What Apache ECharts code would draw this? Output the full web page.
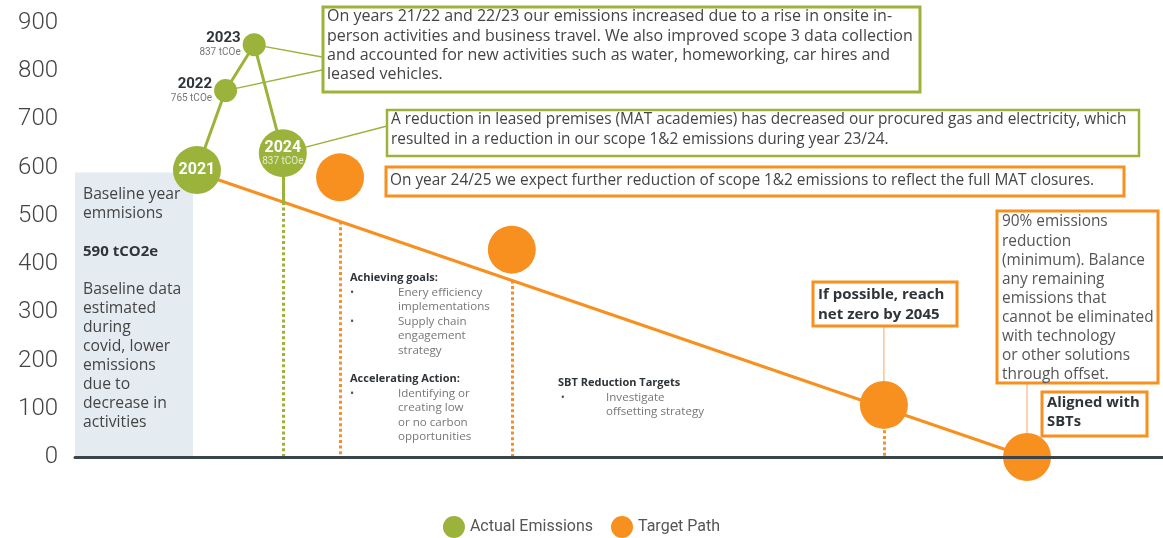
<!DOCTYPE html>
<html>
<head>
<meta charset="utf-8">
<script src="https://cdn.jsdelivr.net/npm/echarts@6/dist/echarts.min.js"></script>
<style>
  html, body { margin: 0; padding: 0; background: #fff; }
  #chart { width: 1163px; height: 538px; }
</style>
</head>
<body>
<div id="chart"></div>
<script>
// actual emissions (years / plotted value / label text)
const actualYears = [2021, 2022, 2023, 2024];
const actualValues = [595, 760, 855, 630];
const actualSubLabels = ["", "765 tCOe", "837 tCOe", "837 tCOe"];

// target path: straight line from baseline to zero
const targetYears = [2021, 2050];
const targetValues = [590, 0];

// orange milestone circles
const milestoneYears = [2026, 2032, 2045, 2050];
const milestoneValues = [580, 430, 108, 0];

const baselineValue = 590;
const yMin = 0;
const yMax = 900;
const yStep = 100;

const green = "#9bb23b";
const orange = "#f7901e";
const axisColor = "#3b4448";
const textColor = "#444";
const fontFamily = "Roboto, 'Open Sans', sans-serif";
const noteFont = "'Open Sans', Roboto, sans-serif";

const xMin = 2016.74;
const xMax = 2054.75;

function targetAt(year) {
  const t = (year - targetYears[0]) / (targetYears[1] - targetYears[0]);
  return targetValues[0] + t * (targetValues[1] - targetValues[0]);
}

const bigYears = new Set([actualYears[0], actualYears[actualYears.length - 1]]);

const actualData = actualYears.map((year, i) => {
  const big = bigYears.has(year);
  const sub = actualSubLabels[i];
  return {
    value: [year, actualValues[i]],
    symbolSize: big ? 48 : 23,
    label: big
      ? {
          show: true,
          position: "inside",
          formatter: sub ? `{w|${year}}\n{ws|${sub}}` : `{w|${year}}`
        }
      : {
          show: true,
          position: "left",
          distance: 2,
          formatter: `{b|${year}}\n{s|${sub}}`
        }
  };
});

const lastYear = actualYears[actualYears.length - 1];
const lastValue = actualValues[actualValues.length - 1];

const chart = echarts.init(document.getElementById("chart"), null, { renderer: "canvas" });

chart.setOption({
  animation: false,
  textStyle: { fontFamily },
  grid: { left: 75, right: 0, top: 23, bottom: 81 },
  legend: {
    top: 511,
    left: "center",
    icon: "circle",
    itemWidth: 22,
    itemHeight: 22,
    itemGap: 18,
    textStyle: { color: "#555", fontSize: 16, fontFamily },
    data: ["Actual Emissions", "Target Path"]
  },
  xAxis: {
    type: "value",
    min: xMin,
    max: xMax,
    z: 10,
    axisLine: { show: true, lineStyle: { color: axisColor, width: 3 } },
    axisTick: { show: false },
    axisLabel: { show: false },
    splitLine: { show: false }
  },
  yAxis: {
    type: "value",
    min: yMin,
    max: yMax,
    interval: yStep,
    axisLine: { show: false },
    axisTick: { show: false },
    splitLine: { show: false },
    axisLabel: { color: textColor, fontSize: 24, fontWeight: 300, margin: 17, fontFamily }
  },
  series: [
    {
      name: "Target Path",
      type: "line",
      z: 2,
      showSymbol: false,
      symbol: "circle",
      itemStyle: { color: orange },
      lineStyle: { color: orange, width: 3 },
      data: targetYears.map((y, i) => [y, targetValues[i]]),
      markArea: {
        silent: true,
        itemStyle: { color: "#e4ecf1" },
        data: [[{ xAxis: xMin, yAxis: 0 }, { xAxis: 2020.86, yAxis: baselineValue }]]
      }
    },
    {
      name: "Target Path",
      type: "scatter",
      z: 4,
      symbol: "circle",
      symbolSize: 48,
      itemStyle: { color: orange, opacity: 1 },
      data: milestoneYears.map((y, i) => [y, milestoneValues[i]]),
      markLine: {
        silent: true,
        symbol: ["none", "none"],
        label: { show: false },
        lineStyle: { color: orange, width: 3, type: [3, 2.6] },
        data: milestoneYears
          .filter((y) => targetAt(y) > 0.5)
          .map((y) => [{ coord: [y, targetAt(y)] }, { coord: [y, 0] }])
      }
    },
    {
      name: "Actual Emissions",
      type: "line",
      z: 5,
      symbol: "circle",
      itemStyle: { color: green, opacity: 1 },
      lineStyle: { color: green, width: 3 },
      label: {
        rich: {
          w: { color: "#fff", fontSize: 16, fontWeight: "bold", lineHeight: 17, fontFamily },
          ws: { color: "rgba(255,255,255,0.75)", fontSize: 10, lineHeight: 11, fontFamily },
          b: { color: "#2f3438", fontSize: 15, fontWeight: "bold", lineHeight: 15, align: "right", fontFamily },
          s: { color: "#777", fontSize: 10, lineHeight: 12, align: "right", fontFamily }
        }
      },
      data: actualData,
      markLine: {
        silent: true,
        symbol: ["none", "none"],
        label: { show: false },
        data: [
          [
            { coord: [lastYear, lastValue], lineStyle: { color: green, width: 3, type: "solid" } },
            { coord: [lastYear, targetAt(lastYear)] }
          ],
          [
            { coord: [lastYear, targetAt(lastYear)], lineStyle: { color: green, width: 3, type: [3, 2.6] } },
            { coord: [lastYear, 0] }
          ]
        ]
      }
    }
  ]
});

const px = (x, y) => chart.convertToPixel({ gridIndex: 0 }, [x, y]);

function box(x, y, w, h, color, lw) {
  return {
    type: "rect",
    z: 1,
    shape: { x, y, width: w, height: h },
    style: { fill: "#fff", stroke: color, lineWidth: lw }
  };
}

function text(x, y, str, opts) {
  return {
    type: "text",
    z: 6,
    style: Object.assign(
      {
        x,
        y,
        text: str,
        fill: textColor,
        fontSize: 15,
        fontFamily: noteFont,
        lineHeight: 19,
        verticalAlign: "top"
      },
      opts || {}
    )
  };
}

function leader(from, to, color) {
  return {
    type: "line",
    z: 0,
    shape: { x1: from[0], y1: from[1], x2: to[0], y2: to[1] },
    style: { stroke: color, lineWidth: 1.3 }
  };
}

const p2022 = px(actualYears[1], actualValues[1]);
const p2023 = px(actualYears[2], actualValues[2]);
const p2024 = px(actualYears[3], actualValues[3]);
const p2045 = px(milestoneYears[2], milestoneValues[2]);
const p2050 = px(milestoneYears[3], milestoneValues[3]);

const headStyle = { fontWeight: "bold", fill: "#2f3438", fontSize: 11, fontFamily: noteFont, lineHeight: 14.4 };

chart.setOption({
  graphic: [
    leader(p2023, [322, 57], green),
    leader(p2022, [322, 70], green),
    leader(p2024, [387, 126], green),
    leader([p2045[0], 327], [p2045[0], p2045[1] - 24], "#f9b98a"),
    leader([p2050[0], 384], [p2050[0], p2050[1] - 24], "#f9b98a"),

    box(323, 7, 597, 85, green, 3),
    text(327, 7, 
      "On years 21/22 and 22/23 our emissions increased due to a rise in onsite in-\n" +
      "person activities and business travel. We also improved scope 3 data collection\n" +
      "and accounted for new activities such as water, homeworking, car hires and\n" +
      "leased vehicles.", { lineHeight: 19.3, fontSize: 16 }),

    box(387, 110, 752, 46, green, 2.5),
    text(391, 110,
      "A reduction in leased premises (MAT academies) has decreased our procured gas and electricity, which\n" +
      "resulted in a reduction in our scope 1&2 emissions during year 23/24.", { lineHeight: 20, fontSize: 15.4 }),

    box(386, 167, 738, 29, orange, 3),
    text(390, 171,
      "On year 24/25 we expect further reduction of scope 1&2 emissions to reflect the full MAT closures.",
      { fontSize: 15.4 }),

    {
      type: "text",
      z: 6,
      style: {
        x: 83,
        y: 185,
        verticalAlign: "top",
        fill: textColor,
        fontSize: 15.7,
        fontFamily: noteFont,
        lineHeight: 19,
        text:
          "Baseline year\nemmisions\n\n{bold|590 tCO2e}\n\nBaseline data\nestimated\nduring\ncovid, lower\nemissions\ndue to\ndecrease in\nactivities",
        rich: {
          bold: { fontWeight: "bold", fill: "#2f3438", fontSize: 15, fontFamily: noteFont, lineHeight: 19 }
        }
      }
    },

    {
      type: "text",
      z: 6,
      style: {
        x: 350,
        y: 271,
        verticalAlign: "top",
        fill: "#555",
        fontSize: 11,
        fontFamily: noteFont,
        lineHeight: 14.4,
        text: "{h|Achieving goals:}\n•\n\n•\n\n\n\n{h|Accelerating Action:}\n•",
        rich: { h: headStyle }
      }
    },
    text(398, 271,
      "\nEnery efficiency\nimplementations\nSupply chain\nengagement\nstrategy\n\n\nIdentifying or\ncreating low\nor no carbon\nopportunities",
      { fontSize: 11.6, lineHeight: 14.4, fill: "#777" }),

    {
      type: "text",
      z: 6,
      style: {
        x: 558,
        y: 376,
        verticalAlign: "top",
        fill: "#555",
        fontSize: 11,
        fontFamily: noteFont,
        lineHeight: 14.4,
        text: "{h|SBT Reduction Targets}\n •",
        rich: { h: headStyle }
      }
    },
    text(606, 376, "\nInvestigate\noffsetting strategy", { fontSize: 11.6, lineHeight: 14.4, fill: "#777" }),

    box(813, 282, 144, 44, orange, 3),
    text(818, 285, "If possible, reach\nnet zero by 2045", { fontWeight: "bold", fill: "#2f3438", lineHeight: 19.5, fontSize: 15 }),

    box(997, 211, 161, 172, orange, 3),
    text(1002, 212.5,
      "90% emissions\nreduction\n(minimum). Balance\nany remaining\nemissions that\ncannot be eliminated\nwith technology\nor other solutions\nthrough offset.",
      { fill: "#555", lineHeight: 19.1, fontSize: 15.4 }),

    box(1042, 392, 105, 44, orange, 3),
    text(1047, 393.5, "Aligned with\nSBTs", { fontWeight: "bold", fill: "#2f3438", lineHeight: 19, fontSize: 14.8 })
  ]
});
</script>
</body>
</html>
